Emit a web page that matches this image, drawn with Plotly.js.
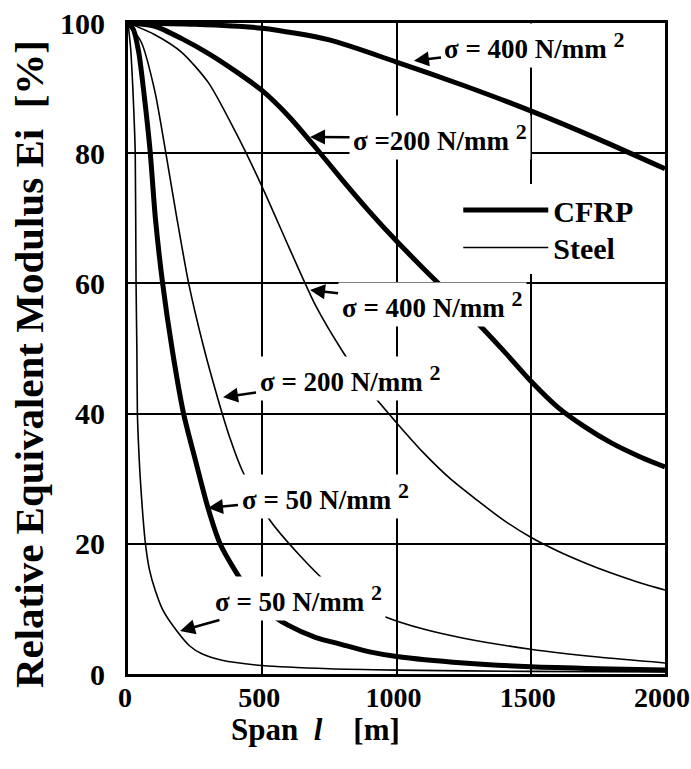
<!DOCTYPE html>
<html>
<head>
<meta charset="utf-8">
<script src="https://cdn.plot.ly/plotly-3.0.1.min.js"></script>
<style>
  html, body { margin: 0; padding: 0; background: #fff; }
  #chart { width: 691px; height: 769px; }
</style>
</head>
<body>
<div id="chart"></div>
<script>
// ---- Data ----
const spanCFRP400 = [0, 250, 500, 750, 1000, 1250, 1500, 1750, 2000];
const eCFRP400    = [100, 99.8, 99.2, 97.4, 94.0, 90.4, 86.5, 82.2, 77.6];

const spanCFRP200 = [0, 100, 200, 300, 400, 500, 600, 700, 800, 900, 1000, 1100, 1200, 1300, 1400, 1500, 1600, 1700, 1800, 1900, 2000];
const eCFRP200    = [100, 99.5, 97.6, 95.3, 92.6, 89.6, 85.6, 80.8, 75.8, 71.0, 66.5, 62.3, 58.2, 54.0, 49.6, 45.0, 41.0, 38.0, 35.5, 33.5, 31.8];

const spanCFRP50 = [0, 20, 40, 60, 82, 102, 129, 164, 207, 250, 298, 343, 400, 447, 520, 596, 700, 790, 900, 1000, 1250, 1500, 1750, 2000];
const eCFRP50    = [100, 99, 95.5, 89, 80.5, 70, 60, 50, 40, 33, 25.5, 20, 15.8, 12.9, 9.6, 7.5, 5.6, 4.6, 3.4, 2.7, 1.7, 1.1, 0.8, 0.6];

const spanSteel400 = [0, 100, 200, 300, 400, 500, 600, 700, 800, 900, 1000, 1100, 1200, 1300, 1400, 1500, 1600, 1700, 1800, 1900, 2000];
const eSteel400    = [100, 98.2, 95.5, 90.8, 83.3, 74.8, 65.5, 56.5, 49.5, 43.5, 38.6, 34.0, 30.0, 26.7, 23.6, 21.0, 18.9, 17.1, 15.5, 14.1, 12.9];

const spanSteel200 = [0, 50, 100, 139, 180, 226, 280, 336, 380, 425, 522, 640, 764, 850, 957, 1100, 1250, 1500, 1750, 2000];
const eSteel200    = [100, 97, 89.5, 80.5, 70.5, 60, 50.5, 42.1, 36.2, 31.3, 24, 18.2, 13.2, 11, 8.8, 6.9, 5.5, 3.8, 2.6, 1.7];

const spanSteel50 = [0, 10, 18, 24, 27, 30, 33, 35, 40, 45, 55, 65, 80, 101, 130, 182, 230, 275, 350, 500, 750, 1000, 1500, 2000];
const eSteel50    = [100, 96, 90, 84, 80, 60, 50, 40, 34.5, 30.5, 24.5, 20, 16, 12.9, 9.8, 6.6, 4.3, 3.1, 2.1, 1.3, 0.8, 0.6, 0.4, 0.3];

const xTicks = [0, 500, 1000, 1500, 2000];
const xTickText = ['0', '500', '1000', '1500', '2000'];
const yTicks = [0, 20, 40, 60, 80, 100];
const yTickText = ['0', '20', '40', '60', '80', '100'];

const seriesNames = ['CFRP', 'Steel'];
const xTitle = 'Span\u00A0\u00A0<i>l</i>\u00A0\u00A0\u00A0\u00A0[m]';
const yTitle = 'Relative Equivalent Modulus Ei\u00A0\u00A0[%]';

const SUP2 = ' <sup><span style="font-size:22px">2</span></sup>';
const labelTexts = ['σ = 400 N/mm' + SUP2, 'σ =200 N/mm' + SUP2, 'σ = 400 N/mm' + SUP2,
                    'σ = 200 N/mm' + SUP2, 'σ = 50 N/mm' + SUP2, 'σ = 50 N/mm' + SUP2];
const labelTipSpan = [1065, 678, 678, 354, 298, 194];
const labelTipE    = [94.2, 82.5, 59, 42.5, 25.5, 6.6];

// ---- Styling ----
const FONT = 'Liberation Serif, Times New Roman, serif';
const thick = 5, thin = 1.6;
const labelOffsetX = [121, 130, 122, 127, 117, 118];
const labelOffsetY = [-15, 1, 15, -19, -12, -33];

function tr(x, y, w, name, show, leg) {
  return { x: x, y: y, type: 'scatter', mode: 'lines', name: name, showlegend: show, legend: leg,
           line: { color: '#000', width: w, shape: 'spline', smoothing: 0.7 }, hoverinfo: 'skip' };
}

const data = [
  tr(spanCFRP400, eCFRP400, thick, seriesNames[0], true, 'legend'),
  tr(spanCFRP200, eCFRP200, thick, seriesNames[0], false, 'legend'),
  tr(spanCFRP50, eCFRP50, thick, seriesNames[0], false, 'legend'),
  tr(spanSteel400, eSteel400, thin, seriesNames[1], true, 'legend2'),
  tr(spanSteel200, eSteel200, thin, seriesNames[1], false, 'legend2'),
  tr(spanSteel50, eSteel50, thin, seriesNames[1], false, 'legend2')
];

const annotations = labelTexts.map((t, i) => ({
  x: labelTipSpan[i], y: labelTipE[i], xref: 'x', yref: 'y',
  text: t, showarrow: true, arrowhead: 2, arrowsize: 1.2, arrowwidth: 2.5, arrowcolor: '#000',
  ax: labelOffsetX[i], ay: labelOffsetY[i], standoff: 0,
  bgcolor: '#fff', borderpad: 3,
  font: { family: FONT, size: 27, color: '#000', weight: 700 }
}));
annotations.push({
  xref: 'paper', yref: 'paper', x: 0.35, y: -0.085, xanchor: 'center', yanchor: 'middle',
  text: xTitle, showarrow: false,
  font: { family: FONT, size: 31, color: '#000', weight: 700 }
});
annotations.push({
  xref: 'paper', yref: 'paper', x: -0.1844, y: 0.476, xanchor: 'center', yanchor: 'middle',
  text: yTitle, showarrow: false, textangle: -90,
  font: { family: FONT, size: 41, color: '#000', weight: 700 }
});

const axisCommon = {
  showgrid: true, gridcolor: '#000', gridwidth: 2,
  showline: true, linecolor: '#000', linewidth: 3, mirror: true,
  zeroline: false, fixedrange: true,
  ticklabeloverflow: 'allow'
};

const legendCommon = {
  xanchor: 'left', yanchor: 'top', bgcolor: '#fff', borderwidth: 0, itemwidth: 85,
  font: { family: FONT, size: 30, color: '#000', weight: 700 }, tracegroupgap: 0
};

const layout = {
  width: 691, height: 769,
  margin: { l: 128, r: 26, t: 23, b: 95 },
  paper_bgcolor: '#fff', plot_bgcolor: '#fff',
  showlegend: true,
  legend: Object.assign({}, legendCommon, { x: 0.615, y: 0.7527 }),
  legend2: Object.assign({}, legendCommon, { x: 0.615, y: 0.695 }),
  xaxis: Object.assign({}, axisCommon, {
    range: [0, 2000], tickvals: xTicks, ticktext: xTickText, ticks: '',
    tickfont: { family: FONT, size: 28, color: '#000', weight: 700 },
    ticklabelstandoff: -4, ticklabelshift: -3
  }),
  yaxis: Object.assign({}, axisCommon, {
    range: [0, 100], tickvals: yTicks, ticktext: yTickText,
    tickfont: { family: FONT, size: 30, color: '#000', weight: 700 },
    ticks: 'outside', ticklen: 14, tickcolor: 'rgba(0,0,0,0)'
  }),
  annotations: annotations
};

Plotly.newPlot('chart', data, layout, { displayModeBar: false, staticPlot: true });
</script>
</body>
</html>
